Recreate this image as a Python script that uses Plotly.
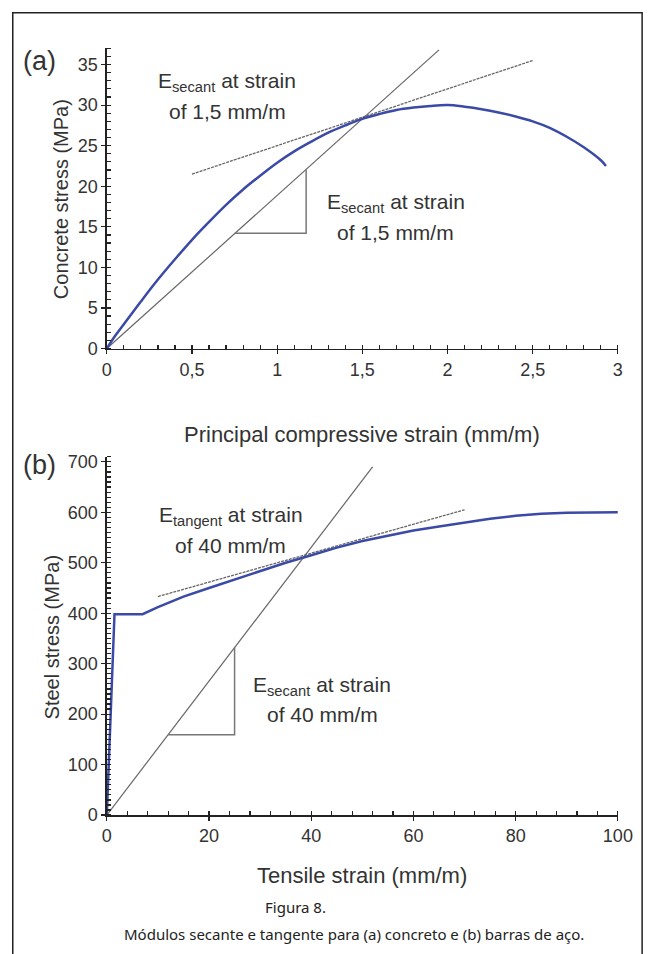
import plotly.graph_objects as go

W, H = 661, 954

# ---------------- data ----------------
concrete_strain = [0, 0.05, 0.1, 0.2, 0.3, 0.4, 0.5, 0.6, 0.7, 0.8, 0.9, 1.0, 1.1, 1.2, 1.3,
                   1.4, 1.5, 1.6, 1.7, 1.8, 1.9, 2.0, 2.1, 2.2, 2.3, 2.4, 2.5, 2.6, 2.7, 2.8,
                   2.9, 2.93]
concrete_stress = [0, 1.6, 3.0, 5.8, 8.5, 11.0, 13.4, 15.6, 17.7, 19.6, 21.3, 22.9, 24.3, 25.5,
                   26.6, 27.5, 28.3, 28.9, 29.4, 29.7, 29.9, 30.0, 29.8, 29.5, 29.1, 28.6, 28.0,
                   27.2, 26.1, 24.8, 23.2, 22.5]

concrete_secant_x = [0, 1.95]
concrete_secant_y = [0, 36.8]
concrete_tangent_x = [0.5, 2.5]
concrete_tangent_y = [21.5, 35.5]
concrete_tri_x = [0.75, 1.17, 1.17]
concrete_tri_y = [14.2, 14.2, 22.1]

steel_strain = [0, 1.5, 2, 7, 10, 15, 20, 25, 30, 35, 40, 45, 50, 55, 60, 65, 70, 75, 80,
                85, 90, 95, 100]
steel_stress = [0, 398, 398, 398, 412, 433, 450, 467, 483, 500, 515, 530, 543, 554, 564,
                572, 580, 587, 593, 597, 599, 600, 600]

steel_secant_x = [0, 52]
steel_secant_y = [0, 690]
steel_tangent_x = [10, 70]
steel_tangent_y = [433, 605]
steel_tri_x = [12, 25, 25]
steel_tri_y = [159, 159, 332]

# ---------------- styles ----------------
BLUE = "#3a4aa6"
GRAY = "#666666"
TXT = "#333333"
FONT = "Liberation Sans, Arial, sans-serif"


def px(x):
    return x / W


def py(y):
    return 1 - y / H


fig = go.Figure()

# panel (a)
fig.add_trace(go.Scatter(x=concrete_secant_x, y=concrete_secant_y, mode="lines",
                         line=dict(color=GRAY, width=1.2), xaxis="x", yaxis="y",
                         showlegend=False, hoverinfo="skip"))
fig.add_trace(go.Scatter(x=concrete_tangent_x, y=concrete_tangent_y, mode="lines",
                         line=dict(color=GRAY, width=1.3, dash="3px,1px"), xaxis="x",
                         yaxis="y", showlegend=False, hoverinfo="skip"))
fig.add_trace(go.Scatter(x=concrete_tri_x, y=concrete_tri_y, mode="lines",
                         line=dict(color="#777777", width=1.5), xaxis="x", yaxis="y",
                         showlegend=False, hoverinfo="skip"))
fig.add_trace(go.Scatter(x=concrete_strain, y=concrete_stress, mode="lines",
                         line=dict(color=BLUE, width=2.5, shape="spline"), xaxis="x",
                         yaxis="y", showlegend=False))

# panel (b)
fig.add_trace(go.Scatter(x=steel_secant_x, y=steel_secant_y, mode="lines",
                         line=dict(color=GRAY, width=1.2), xaxis="x2", yaxis="y2",
                         showlegend=False, hoverinfo="skip"))
fig.add_trace(go.Scatter(x=steel_tangent_x, y=steel_tangent_y, mode="lines",
                         line=dict(color=GRAY, width=1.3, dash="3px,1px"), xaxis="x2",
                         yaxis="y2", showlegend=False, hoverinfo="skip"))
fig.add_trace(go.Scatter(x=steel_tri_x, y=steel_tri_y, mode="lines",
                         line=dict(color="#777777", width=1.5), xaxis="x2", yaxis="y2",
                         showlegend=False, hoverinfo="skip"))
fig.add_trace(go.Scatter(x=steel_strain, y=steel_stress, mode="lines",
                         line=dict(color=BLUE, width=2.5), xaxis="x2", yaxis="y2",
                         showlegend=False))

axis_common = dict(showgrid=False, zeroline=False, showline=True, linecolor="#222222",
                   linewidth=1.5, ticks="outside", ticklen=4, tickwidth=1.2,
                   tickcolor="#222222", tickfont=dict(family=FONT, size=18, color=TXT),
                   fixedrange=True)

xdom = [px(105), px(632)]
fig.update_layout(
    width=W, height=H,
    margin=dict(l=0, r=0, t=0, b=0),
    paper_bgcolor="white", plot_bgcolor="white",
    separators=", ",
    font=dict(family=FONT, color=TXT),
    xaxis=dict(axis_common, domain=xdom, range=[0, 3], dtick=0.5, tick0=0,
               anchor="y",
               minor=dict(dtick=0.1, ticks="inside", ticklen=4, tickcolor="#222222")),
    yaxis=dict(axis_common, domain=[py(349), py(44)], range=[0, 37], dtick=5, tick0=0,
               anchor="x",
               minor=dict(dtick=1, ticks="inside", ticklen=4, tickcolor="#222222")),
    xaxis2=dict(axis_common, domain=xdom, range=[0, 100], dtick=20, tick0=0,
                anchor="y2",
                minor=dict(dtick=4, ticks="inside", ticklen=4, tickcolor="#222222")),
    yaxis2=dict(axis_common, domain=[py(823), py(459)], range=[0, 710], dtick=100, tick0=0,
                anchor="x2",
                minor=dict(dtick=10, ticks="inside", ticklen=4, tickcolor="#222222")),
)

ann = []


def text(x, y, s, size, angle=0, family=FONT, color=TXT):
    ann.append(dict(x=px(x), y=py(y), xref="paper", yref="paper", text=s, showarrow=False,
                    xanchor="center", yanchor="middle", textangle=angle,
                    font=dict(family=family, size=size, color=color)))


text(36, 57, "(a)", 27)
text(36, 467, "(b)", 27)
text(229, 78, "E<sub>secant</sub> at strain", 21)
text(229, 108, "of 1,5 mm/m", 21)
text(403, 201, "E<sub>secant</sub> at strain", 21)
text(403, 231, "of 1,5 mm/m", 21)
text(233, 519, "E<sub>tangent</sub> at strain", 21)
text(233, 549, "of 40 mm/m", 21)
text(327, 692, "E<sub>secant</sub> at strain", 21)
text(327, 721, "of 40 mm/m", 21)
text(58, 197, "Concrete stress (MPa)", 20, angle=-90)
text(48, 643, "Steel stress (MPa)", 20, angle=-90)
text(368, 436, "Principal compressive strain (mm/m)", 22)
text(368, 884, "Tensile strain (mm/m)", 22)
text(300, 916, "Figura 8.", 15, family="Noto Sans, sans-serif", color="#222222")
text(360, 944, "Módulos secante e tangente para (a) concreto e (b) barras de aço.", 15,
     family="Noto Sans, sans-serif", color="#222222")

fig.update_layout(annotations=ann)

# outer frame
fig.add_shape(type="rect", xref="paper", yref="paper", x0=px(8), x1=px(657), y0=-0.02,
              y1=py(8), line=dict(color="#222222", width=1.5), layer="below")

fig.write_html("out.html",
               config={"displayModeBar": False, "staticPlot": True},
               post_script="document.body.style.margin='0';"
                           "document.body.style.overflow='hidden';")
